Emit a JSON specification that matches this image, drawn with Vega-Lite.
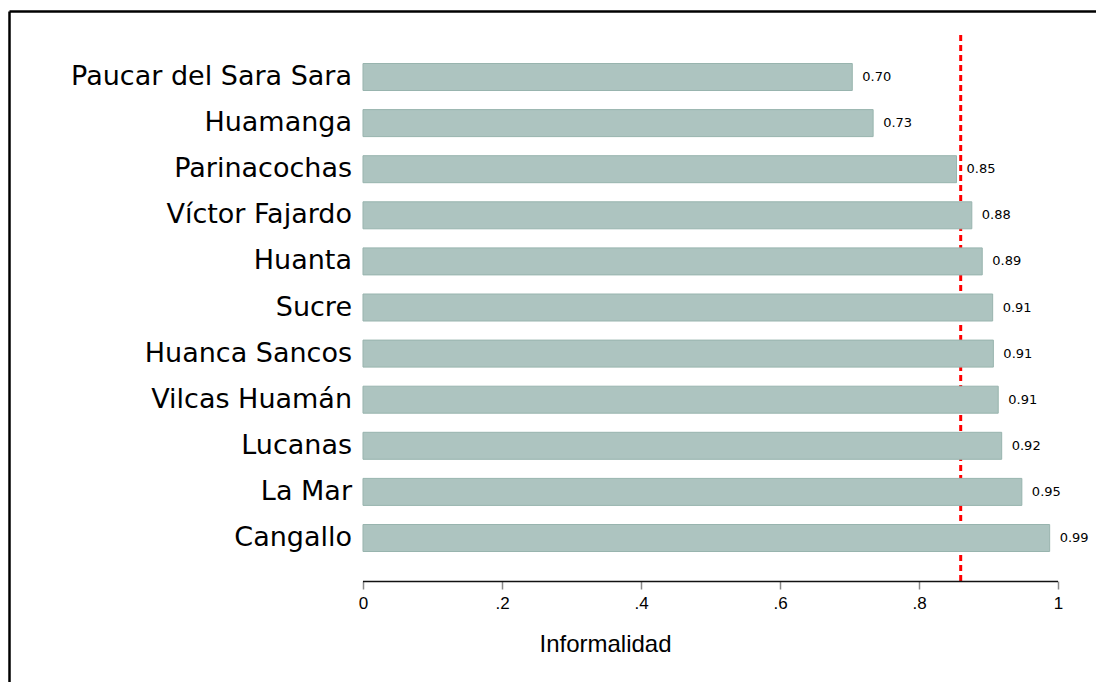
{
  "$schema": "https://vega.github.io/schema/vega-lite/v6.json",
  "autosize": {"type": "none"},
  "padding": {"left": 9, "top": 11, "right": 0, "bottom": 0},
  "width": 1087,
  "height": 671,
  "background": "white",
  "config": {"view": {"stroke": null}},
  "data": {"values": [
    {"provincia": "Paucar del Sara Sara", "orden": 0, "informalidad": 0.704},
    {"provincia": "Huamanga", "orden": 1, "informalidad": 0.734},
    {"provincia": "Parinacochas", "orden": 2, "informalidad": 0.854},
    {"provincia": "Víctor Fajardo", "orden": 3, "informalidad": 0.876},
    {"provincia": "Huanta", "orden": 4, "informalidad": 0.891},
    {"provincia": "Sucre", "orden": 5, "informalidad": 0.906},
    {"provincia": "Huanca Sancos", "orden": 6, "informalidad": 0.907},
    {"provincia": "Vilcas Huamán", "orden": 7, "informalidad": 0.914},
    {"provincia": "Lucanas", "orden": 8, "informalidad": 0.919},
    {"provincia": "La Mar", "orden": 9, "informalidad": 0.948},
    {"provincia": "Cangallo", "orden": 10, "informalidad": 0.988}
  ]},
  "resolve": {"axis": {"x": "independent"}},
  "layer": [
    {
      "data": {"values": [{"promedio": 0.86}]},
      "mark": {"type": "rule", "color": "#ff0000", "strokeWidth": 3, "strokeDash": [6, 4]},
      "encoding": {
        "x": {"field": "promedio", "type": "quantitative", "scale": {"domain": [-0.50935, 1.05468], "nice": false, "zero": false, "padding": 0}, "axis": {"orient": "top", "domain": true, "domainColor": "#000000", "domainWidth": 2.5, "ticks": false, "labels": false, "grid": false, "title": null}},
        "y": {"datum": -0.911, "type": "quantitative", "scale": {"domain": [-1.43167, 13.12364], "nice": false, "zero": false, "reverse": true, "padding": 0}, "axis": {"orient": "left", "domain": true, "domainColor": "#000000", "domainWidth": 2.5, "ticks": false, "labels": false, "grid": false, "title": null}},
        "y2": {"datum": 10.946}
      }
    },
    {
      "mark": {"type": "bar", "orient": "horizontal", "size": 27, "fill": "#adc4c0", "stroke": "#98b4ae", "strokeWidth": 1},
      "encoding": {
        "x": {"field": "informalidad", "type": "quantitative", "stack": null, "axis": {"orient": "bottom", "offset": -101, "domain": false, "grid": false, "values": [0, 0.2, 0.4, 0.6, 0.8, 1], "labelExpr": "datum.value == 0 ? '0' : datum.value == 1 ? '1' : replace(format(datum.value, '.1f'), '0.', '.')", "ticks": true, "tickSize": 8, "tickColor": "#8a8a8a", "tickWidth": 1.5, "labelFont": "Liberation Sans", "labelFontSize": 17, "labelColor": "#000000", "labelPadding": 6, "labelFlush": false, "labelOverlap": false, "title": "Informalidad", "titleFont": "Liberation Sans", "titleFontSize": 24, "titleFontWeight": "normal", "titleColor": "#000000", "titleX": 596, "titleY": 63, "titleBaseline": "middle", "titleAnchor": null, "titleAlign": "center"}},
        "y": {"field": "orden", "type": "quantitative", "axis": {"orient": "left", "domain": true, "domainColor": "#000000", "domainWidth": 2.5, "ticks": false, "labels": false, "grid": false, "title": null}}
      }
    },
    {
      "mark": {"type": "text", "align": "left", "baseline": "middle", "dx": 10, "font": "DejaVu Sans", "fontSize": 13, "color": "#000000"},
      "encoding": {
        "x": {"field": "informalidad", "type": "quantitative", "axis": null},
        "y": {"field": "orden", "type": "quantitative", "axis": {"orient": "left", "domain": true, "domainColor": "#000000", "domainWidth": 2.5, "ticks": false, "labels": false, "grid": false, "title": null}},
        "text": {"field": "informalidad", "type": "quantitative", "format": ".2f"}
      }
    },
    {
      "mark": {"type": "text", "align": "right", "baseline": "middle", "dx": -11, "font": "DejaVu Sans", "fontSize": 27, "color": "#000000"},
      "encoding": {
        "x": {"datum": 0, "type": "quantitative", "axis": null},
        "y": {"field": "orden", "type": "quantitative", "axis": {"orient": "left", "domain": true, "domainColor": "#000000", "domainWidth": 2.5, "ticks": false, "labels": false, "grid": false, "title": null}},
        "text": {"field": "provincia", "type": "nominal"}
      }
    },
    {
      "data": {"values": [{"inicio": 0, "fin": 1}]},
      "mark": {"type": "rule", "color": "#111111", "strokeWidth": 1.5},
      "encoding": {
        "x": {"field": "inicio", "type": "quantitative", "axis": null},
        "x2": {"field": "fin"},
        "y": {"datum": 10.946, "type": "quantitative", "axis": {"orient": "left", "domain": true, "domainColor": "#000000", "domainWidth": 2.5, "ticks": false, "labels": false, "grid": false, "title": null}}
      }
    }
  ]
}
